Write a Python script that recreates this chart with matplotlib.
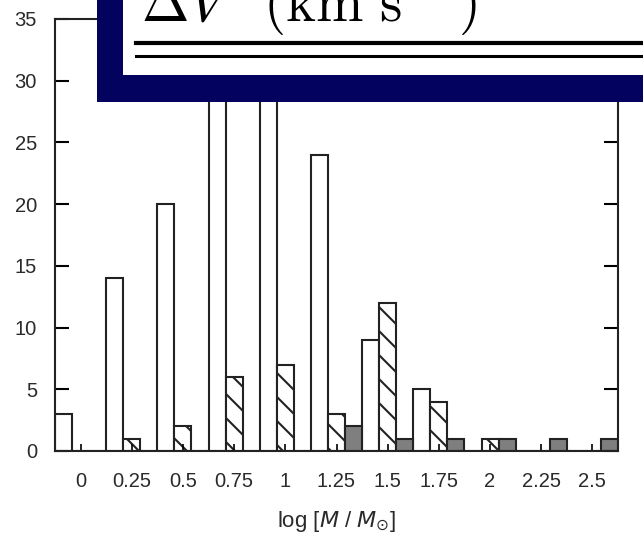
import numpy as np
import matplotlib
matplotlib.use("Agg")
import matplotlib.pyplot as plt
from matplotlib.patches import Rectangle
from matplotlib.lines import Line2D

# ── Data ──────────────────────────────────────────────────────────────────────
mass_bins = ["0", "0.25", "0.5", "0.75", "1", "1.25", "1.5", "1.75", "2", "2.25", "2.5"]
open_counts = [3, 14, 20, 31, 30, 24, 9, 5, 0, 0, 0]     # white bars
hatch_counts = [0, 1, 2, 6, 7, 3, 12, 4, 1, 0, 0]        # hatched bars
grey_counts = [0, 0, 0, 0, 0, 2, 1, 1, 1, 1, 1]          # grey bars
y_ticks = [0, 5, 10, 15, 20, 25, 30, 35]

# dpi 72 so the hatch spacing comes out like the original; sizes below are
# the point sizes one would use at 100 dpi, scaled by K
W, H, DPI = 643, 536, 72
K = 100 / DPI

plt.rcParams["font.family"] = ["Liberation Sans", "DejaVu Sans"]
plt.rcParams["hatch.linewidth"] = 1.5 * K
plt.rcParams["mathtext.fontset"] = "dejavusans"

fig = plt.figure(figsize=(W / DPI, H / DPI), dpi=DPI)


def px(x, y):
    """pixel coords (top-left origin) -> figure fraction"""
    return x / W, 1 - y / H


left, top = px(55, 19)
right, bottom = px(618, 451)
ax = fig.add_axes([left, bottom, right - left, top - bottom])

idx = np.arange(len(mass_bins))
bw = 1 / 3
edge = "#222222"
lw = 1.5 * K
ax.bar(idx - bw, open_counts, width=bw, facecolor="white", edgecolor=edge, linewidth=lw)
ax.bar(idx, hatch_counts, width=bw, facecolor="white", edgecolor=edge, linewidth=lw, hatch="\\")
ax.bar(idx + bw, grey_counts, width=bw, facecolor="#7f7f7f", edgecolor=edge, linewidth=lw)

ax.set_xlim(-0.5, len(mass_bins) - 0.5)
ax.set_ylim(0, 35)
ax.set_xticks(idx)
ax.set_xticklabels(mass_bins)
ax.set_yticks(y_ticks)
ax.tick_params(axis="y", direction="in", length=10 * K, width=1.5 * K, pad=13 * K,
               labelsize=14.5 * K, labelcolor="#2a2a2a", right=True)
ax.tick_params(axis="x", direction="in", length=5 * K, width=1.2 * K, pad=15 * K,
               labelsize=14.5 * K, labelcolor="#2a2a2a")
for s in ax.spines.values():
    s.set_linewidth(lw)
    s.set_color(edge)
ax.set_xlabel(r"log [$\mathit{M}$ / $\mathit{M}_{\odot}$]", fontsize=16 * K,
              color="#2a2a2a", labelpad=13 * K)

# ── Slide overlay box at top ──────────────────────────────────────────────────
navy = "#03035f"
x0, y0 = px(97, 102)
fig.add_artist(Rectangle((x0, y0), 1.1 - x0, 1.2 - y0, transform=fig.transFigure,
                         facecolor=navy, edgecolor="none", zorder=10))
x1, y1 = px(123, 75)
fig.add_artist(Rectangle((x1, y1), 1.1 - x1, 1.2 - y1, transform=fig.transFigure,
                         facecolor="white", edgecolor="none", zorder=11))
for yy, w in [(43, 3.0), (56, 2.2)]:
    xa, ya = px(136, yy)
    fig.add_artist(Line2D([xa, 1.05], [ya, ya], transform=fig.transFigure,
                          color="black", linewidth=w * K, zorder=12))
tx, ty = px(141, 21)
fig.text(tx, ty, r"$\Delta V\ \ \,(\mathrm{km\ s}^{-1})$", fontsize=41 * K,
         math_fontfamily="cm", va="baseline", ha="left", zorder=13)

fig.savefig("out.png", dpi=DPI)
